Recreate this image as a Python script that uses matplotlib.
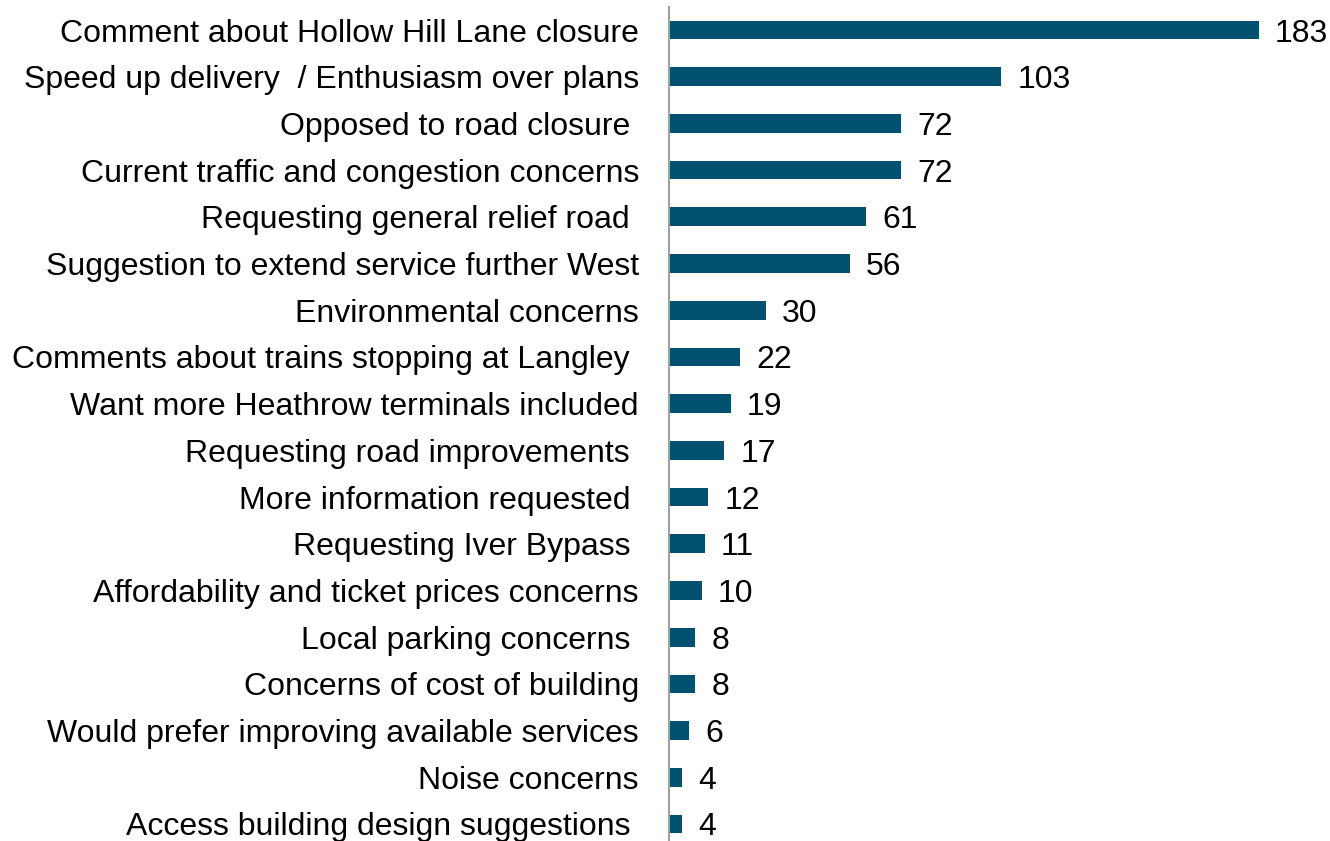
import matplotlib
matplotlib.use("Agg")
import matplotlib.pyplot as plt

categories = [
    "Comment about Hollow Hill Lane closure",
    "Speed up delivery  / Enthusiasm over plans",
    "Opposed to road closure ",
    "Current traffic and congestion concerns",
    "Requesting general relief road ",
    "Suggestion to extend service further West",
    "Environmental concerns",
    "Comments about trains stopping at Langley ",
    "Want more Heathrow terminals included",
    "Requesting road improvements ",
    "More information requested ",
    "Requesting Iver Bypass ",
    "Affordability and ticket prices concerns",
    "Local parking concerns ",
    "Concerns of cost of building",
    "Would prefer improving available services",
    "Noise concerns",
    "Access building design suggestions ",
]
values = [183, 103, 72, 72, 61, 56, 30, 22, 19, 17, 12, 11, 10, 8, 8, 6, 4, 4]

plt.rcParams['font.family'] = ['Liberation Sans', 'DejaVu Sans']

W, H = 1330, 841
fig = plt.figure(figsize=(W / 100, H / 100), dpi=100)
top_px, bot_px = 6.65, 847.35
left_px, right_px = 669.5, 1330
ax = fig.add_axes([left_px / W, 1 - bot_px / H, (right_px - left_px) / W, (bot_px - top_px) / H])

y = list(range(len(categories)))
ax.barh(y, values, height=0.4, color='#00516F')
ax.set_ylim(len(categories) - 0.5, -0.5)
ax.set_xlim(0, (right_px - left_px) / 3.22)
ax.set_yticks(y)
ax.set_yticklabels(categories, fontsize=23, va='center_baseline')
ax.tick_params(axis='y', length=0, pad=22)
ax.set_xticks([])
for s in ['top', 'right', 'bottom']:
    ax.spines[s].set_visible(False)
ax.spines['left'].set_color('#A0A0A0')
ax.spines['left'].set_linewidth(1.5)

for yi, v in zip(y, values):
    ax.text(v + 5, yi, str(v), va='center_baseline', ha='left', fontsize=23, color='black')

fig.savefig("out.png", dpi=100)
